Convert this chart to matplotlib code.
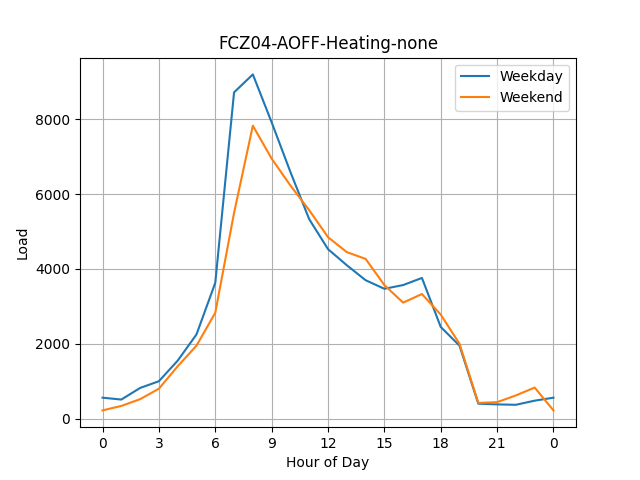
import matplotlib
matplotlib.use('Agg')
import matplotlib.pyplot as plt

hours = list(range(25))
weekday = [560, 510, 820, 1000, 1550, 2250, 3630, 8720, 9200, 7920, 6590, 5330, 4530,
           4100, 3700, 3470, 3570, 3760, 2450, 1950, 400, 380, 370, 480, 560]
weekend = [220, 340, 520, 800, 1400, 1950, 2830, 5500, 7830, 6950, 6230, 5570, 4850,
           4450, 4270, 3570, 3100, 3330, 2780, 2000, 420, 440, 620, 830, 220]
tick_pos = [0, 3, 6, 9, 12, 15, 18, 21, 24]
tick_labels = ["0", "3", "6", "9", "12", "15", "18", "21", "0"]

fig, ax = plt.subplots(figsize=(6.4, 4.8), dpi=100)
ax.plot(hours, weekday, label="Weekday")
ax.plot(hours, weekend, label="Weekend")
ax.set_xticks(tick_pos)
ax.set_xticklabels(tick_labels)
ax.set_xlabel("Hour of Day")
ax.set_ylabel("Load")
ax.set_title("FCZ04-AOFF-Heating-none")
ax.grid(True)
ax.legend()
plt.savefig("out.png")
